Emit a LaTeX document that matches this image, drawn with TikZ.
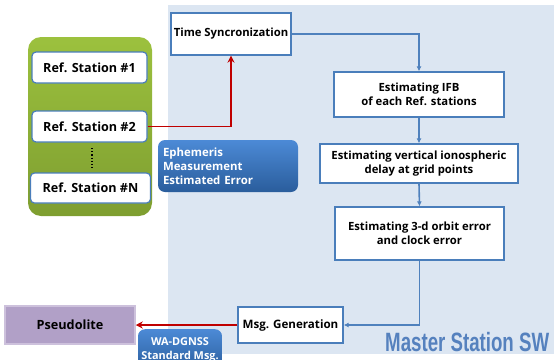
\documentclass[tikz,border=0pt]{standalone}
\usepackage{fontspec}
\setmainfont{Open Sans}
\newfontfamily\titlefont{Liberation Sans}
\usetikzlibrary{arrows.meta,positioning,calc}
\definecolor{panel}{HTML}{DCE6F2}
\definecolor{lineblue}{HTML}{4F81BD}
\definecolor{boxborder}{HTML}{4A7EBB}
\definecolor{redline}{HTML}{C00000}
\definecolor{greentop}{HTML}{9CC13E}
\definecolor{greenbot}{HTML}{7E9E30}
\definecolor{bluetop}{HTML}{4C8AD6}
\definecolor{bluebot}{HTML}{2A5D9C}
\definecolor{lilac}{HTML}{B1A0C7}
\definecolor{lilacedge}{HTML}{CDC1DC}
\definecolor{titleblue}{HTML}{5581BE}
\begin{document}
\begin{tikzpicture}[x=1pt,y=-1pt,
  procbox/.style={draw=boxborder,line width=1.3pt,fill=white,align=center,
    font=\bfseries\fontsize{11.3}{14}\selectfont,inner sep=1pt},
  refbox/.style={draw=boxborder,line width=1.2pt,fill=white,rounded corners=4pt,
    font=\bfseries\fontsize{12.6}{15}\selectfont,inner sep=1pt,
    minimum width=115pt,minimum height=31pt},
  infobox/.style={rounded corners=7pt,top color=bluetop,bottom color=bluebot,
    draw=none,text=white,font=\bfseries\fontsize{11.4}{14}\selectfont,inner sep=1pt},
  flow/.style={draw=lineblue,line width=1.6pt,-{Latex[length=5pt,width=5pt]}},
  redflow/.style={draw=redline,line width=1.6pt,-{Stealth[length=7pt,width=7pt]}}
]
\useasboundingbox (0,0) rectangle (554,359);
% panel
\fill[panel] (168,5) rectangle (554,354);
% green container
\shade[top color=greentop,bottom color=greenbot,rounded corners=13pt] (28,37) rectangle (152,216);
% reference stations
\node[refbox] (r1) at (89.5,67.5) {Ref. Station \#1};
\node[refbox] (r2) at (89.5,126.5) {Ref. Station \#2};
\node[refbox,minimum width=120pt,minimum height=30pt] (rN) at (90.5,188) {Ref. Station \#N};
\coordinate (dtop) at (92,148);
\coordinate (dbot) at (92,168);
\draw[line width=1.2pt,dotted,black] (dtop) -- (dbot);
% process boxes
\node[procbox,minimum width=120pt,minimum height=42pt] (ts) at (231,34) {Time Syncronization};
\node[procbox,minimum width=170pt,minimum height=45pt] (ifb) at (419,94.5) {Estimating IFB\\of each Ref. stations};
\node[procbox,minimum width=198pt,minimum height=39pt] (iono) at (419,163.5) {Estimating vertical ionospheric\\delay at grid points};
\node[procbox,minimum width=169pt,minimum height=53pt] (orb) at (419.5,233.5) {Estimating 3-d orbit error\\and clock error};
\node[procbox,minimum width=105pt,minimum height=36pt,font=\bfseries\fontsize{11.6}{14}\selectfont] (msg) at (290.5,325) {Msg. Generation};
\node[fill=lilac,draw=lilacedge,line width=1.5pt,minimum width=130pt,minimum height=38pt,
  font=\bfseries\fontsize{12.7}{15}\selectfont] (ps) at (70,325) {Pseudolite};
% info boxes
\node[infobox,minimum width=140pt,minimum height=52pt,align=left,text width=130pt] (eph) at (228,166)
  {Ephemeris\\Measurement\\Estimated Error};
\node[infobox,minimum width=84pt,minimum height=42pt,align=center,anchor=north,
  font=\bfseries\fontsize{10.9}{14}\selectfont] (wa) at (180,329)
  {WA-DGNSS\\Standard Msg.};
% connectors
\draw[redflow] (r2.east) -| (ts.south);
\draw[flow] (ts.east) -| (ifb.north);
\draw[flow] (ifb.south) -- (iono.north);
\draw[flow] (iono.south) -- (orb.north);
\draw[flow] (orb.south) |- (msg.east);
\draw[redflow] (msg.west) -- (ps.east);
% title
\node[anchor=base west,inner sep=0pt,text=titleblue] (title) at (385,351)
  {\scalebox{0.705}[1]{\titlefont\bfseries\fontsize{26.5}{30}\selectfont Master Station SW}};
\end{tikzpicture}
\end{document}
